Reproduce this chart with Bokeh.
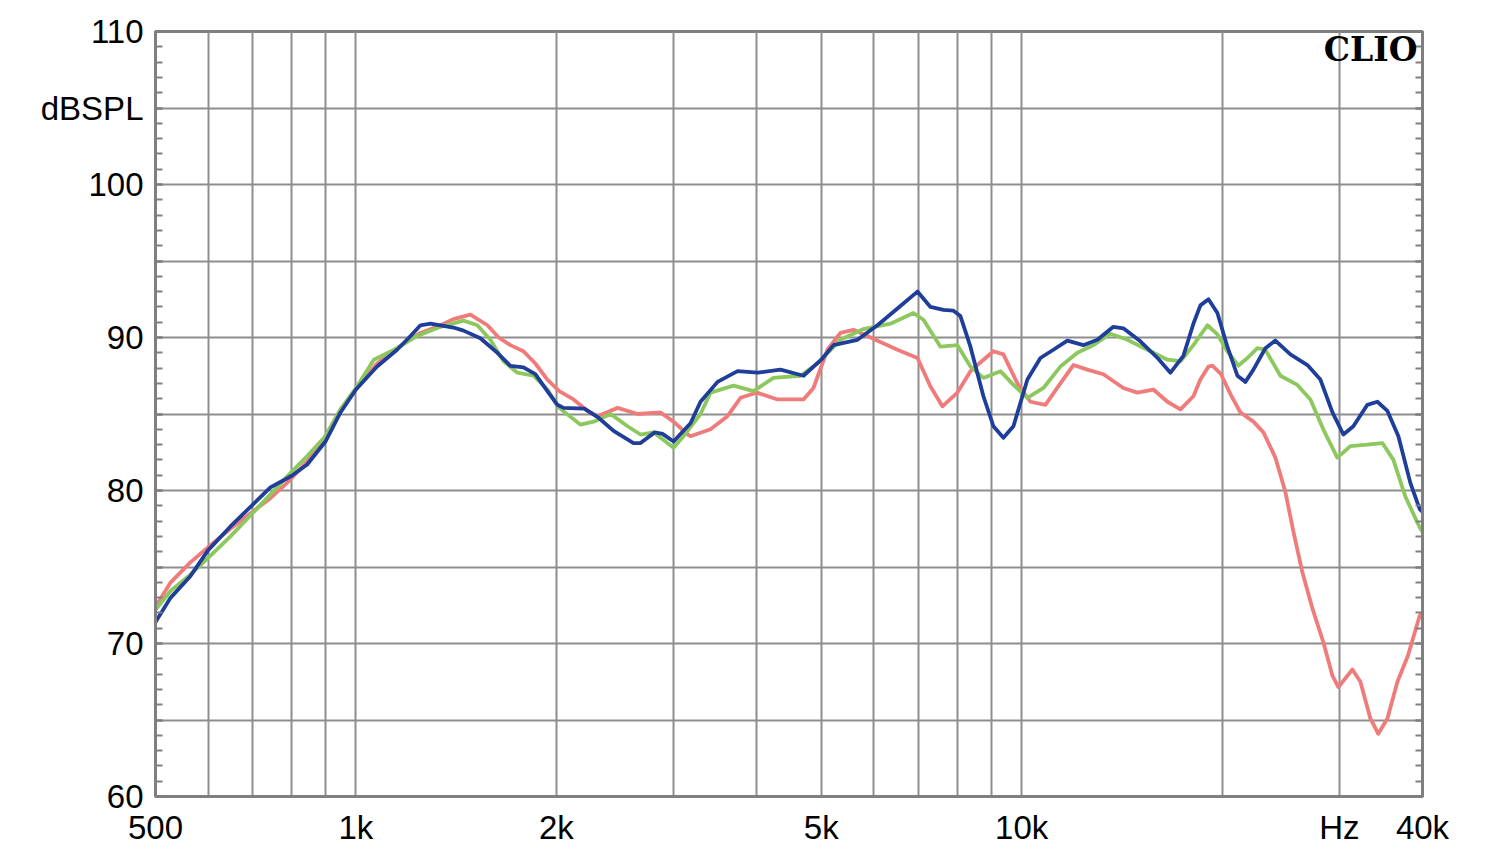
from bokeh.plotting import figure
from bokeh.models import (Range1d, FixedTicker, SingleIntervalTicker, LinearAxis,
                          Label, ColumnDataSource, CustomJSTickFormatter)
from bokeh.embed import file_html
from bokeh.resources import INLINE

# ---------------- data (Hz, dBSPL) ----------------
freq_red = [500, 527, 564, 600, 648, 697, 744, 788, 845, 900, 948, 1000, 1076, 1153,
            1250, 1340, 1401, 1486, 1576, 1638, 1706, 1785, 1860, 1939, 2020, 2123,
            2228, 2307, 2472, 2649, 2868, 3000, 3150, 3181, 3409, 3615, 3782, 4000,
            4297, 4702, 4867, 5108, 5343, 5589, 5927, 6507, 6974, 7294, 7602, 8008,
            8376, 8581, 9069, 9388, 9854, 10307, 10856, 11433, 11959, 12551, 13266,
            14215, 14920, 15770, 16555, 17320, 18110, 18555, 19080, 19340, 19930,
            20585, 21310, 22290, 23075, 24050, 24895, 25600, 26400, 27330, 28380,
            29295, 29900, 31385, 32265, 33400, 34330, 35430, 36675, 38030, 39600, 40000]
db_red = [72.4, 74.0, 75.3, 76.3, 77.5, 78.56, 79.5, 80.5, 81.9, 83.55, 85.3, 86.6, 88.3, 89.3,
          90.3, 90.8, 91.2, 91.5, 90.8, 90.0, 89.5, 89.1, 88.3, 87.25, 86.5, 85.95,
          85.2, 84.86, 85.4, 85.0, 85.1, 84.5, 83.66, 83.55, 84.0, 84.86, 86.06, 86.4,
          85.95, 85.95, 86.7, 89.2, 90.3, 90.5, 90.0, 89.2, 88.66, 86.8, 85.5, 86.4,
          87.8, 88.2, 89.1, 88.9, 87.0, 85.8, 85.6, 87.0, 88.2, 87.9, 87.6,
          86.7, 86.4, 86.6, 85.8, 85.3, 86.16, 87.25, 88.1, 88.16, 87.6,
          86.3, 85.1, 84.5, 83.8, 82.15, 79.9, 77.3, 74.65, 72.3, 70.1,
          67.9, 67.15, 68.3, 67.5, 65.1, 64.1, 65.1, 67.5, 69.2, 71.8, 72.0]

freq_green = [500, 527, 564, 600, 648, 697, 744, 800, 845, 900, 948, 1000, 1064, 1153,
              1236, 1340, 1451, 1522, 1592, 1666, 1748, 1848, 1939, 2020, 2175, 2275,
              2413, 2559, 2676, 2799, 3000, 3105, 3293, 3409, 3691, 3956, 4238, 4653,
              4935, 5343, 5786, 6352, 6878, 7120, 7551, 8008, 8376, 8761, 9291, 9719,
              10200, 10781, 11433, 12125, 12815, 13590, 14413, 15445, 16555, 17320,
              18110, 19010, 19680, 20370, 21160, 21830, 22600, 23230, 24470, 25950,
              27145, 28380, 29790, 31170, 33055, 34820, 36170, 37700, 39600, 40000]
db_green = [72.2, 73.45, 74.5, 75.6, 77.0, 78.45, 79.75, 81.2, 82.25, 83.55, 85.3, 86.7, 88.55, 89.3,
            90.1, 90.7, 91.1, 90.8, 89.85, 88.45, 87.7, 87.5, 86.6, 85.4, 84.3, 84.5,
            85.0, 84.2, 83.66, 83.8, 82.8, 83.55, 85.0, 86.4, 86.85, 86.5, 87.36, 87.5,
            88.3, 89.85, 90.55, 90.9, 91.6, 91.16, 89.4, 89.5, 88.1, 87.36, 87.8, 86.9,
            86.06, 86.7, 88.1, 89.0, 89.5, 90.25, 89.85, 89.2, 88.55, 88.45,
            89.5, 90.8, 90.2, 89.1, 88.16, 88.66, 89.3, 89.2, 87.5, 86.9,
            85.95, 84.0, 82.15, 82.9, 83.0, 83.1, 82.0, 79.6, 77.6, 77.3]

freq_blue = [500, 527, 564, 600, 648, 697, 744, 800, 845, 900, 948, 1000, 1076, 1153,
             1208, 1250, 1294, 1401, 1451, 1538, 1631, 1706, 1785, 1860, 1939, 2007,
             2051, 2204, 2307, 2438, 2612, 2676, 2811, 2888, 3000, 3105, 3181, 3293,
             3493, 3743, 4012, 4342, 4702, 5000, 5216, 5667, 6073, 6507, 6974, 7294,
             7629, 7898, 8091, 8376, 8761, 9069, 9388, 9719, 10200, 10670, 11160,
             11713, 12379, 12994, 13732, 14215, 15076, 16000, 16730, 17495, 18110,
             18555, 19080, 19680, 20370, 21090, 21680, 22290, 23230, 24050, 25330,
             26865, 28100, 29295, 30425, 31490, 33055, 34220, 35430, 36800, 38355,
             39600, 40000]
db_blue = [71.4, 73.0, 74.4, 76.1, 77.65, 79.0, 80.2, 80.95, 81.7, 83.2, 85.1, 86.6, 88.1, 89.2,
           90.1, 90.8, 90.9, 90.65, 90.45, 89.95, 89.0, 88.15, 88.05, 87.6, 86.5, 85.6,
           85.4, 85.35, 84.8, 83.9, 83.1, 83.1, 83.8, 83.7, 83.2, 83.9, 84.4, 85.8,
           87.1, 87.8, 87.7, 87.9, 87.5, 88.55, 89.5, 89.85, 90.8, 91.9, 93.0, 92.0,
           91.8, 91.75, 91.4, 89.4, 86.16, 84.2, 83.45, 84.2, 87.25, 88.66, 89.2,
           89.8, 89.5, 89.85, 90.7, 90.6, 89.75, 88.66, 87.7, 88.8, 90.9,
           92.1, 92.5, 91.6, 89.4, 87.5, 87.1, 87.9, 89.3, 89.8, 88.9,
           88.2, 87.25, 85.1, 83.66, 84.2, 85.6, 85.8, 85.2, 83.55, 80.5,
           78.8, 78.6]

x_label_ticks = [500, 1000, 2000, 5000, 10000, 30000, 40000]
x_label_texts = ["500", "1k", "2k", "5k", "10k", "Hz", "40k"]
x_grid_freqs = [600, 700, 800, 900, 1000, 2000, 3000, 4000, 5000, 6000, 7000, 8000,
                9000, 10000, 20000, 30000]
y_labels = {60: "60", 65: "", 70: "70", 75: "", 80: "80", 85: "", 90: "90",
            95: "", 100: "100", 105: "dBSPL", 110: "110"}

FONT = "Liberation Sans"
GRID = "#8e8e8e"
FRAME = "#7f7f7f"

p = figure(width=1484, height=848, x_axis_type="log",
           x_range=Range1d(500, 40000), y_range=Range1d(60, 110),
           output_backend="svg", toolbar_location=None,
           min_border_left=155, min_border_right=62, min_border_top=31,
           min_border_bottom=50)
p.background_fill_color = "white"
p.border_fill_color = "white"
p.outline_line_color = FRAME
p.outline_line_width = 3

# x axis
xa = p.xaxis[0]
xa.ticker = FixedTicker(ticks=x_label_ticks, minor_ticks=[])
xa.major_label_overrides = {t: s for t, s in zip(x_label_ticks, x_label_texts)}
xa.major_label_text_font = FONT
xa.major_label_text_font_size = "33px"
xa.major_label_text_color = "black"
xa.major_label_standoff = 12
xa.major_tick_in = 0
xa.major_tick_out = 0
xa.minor_tick_in = 0
xa.minor_tick_out = 0
xa.axis_line_color = FRAME
xa.axis_line_width = 3

# y axis (left)
ya = p.yaxis[0]
ya.ticker = SingleIntervalTicker(interval=5, num_minor_ticks=5)
ya.major_label_overrides = y_labels
ya.major_label_text_font = FONT
ya.major_label_text_font_size = "33px"
ya.major_label_text_color = "black"
ya.major_label_standoff = 12
ya.major_tick_in = 7
ya.major_tick_out = 0
ya.minor_tick_in = 7
ya.minor_tick_out = 0
ya.major_tick_line_color = FRAME
ya.minor_tick_line_color = FRAME
ya.major_tick_line_width = 2
ya.minor_tick_line_width = 2
ya.axis_line_color = FRAME
ya.axis_line_width = 3

# right axis with inward ticks, no labels
ra = LinearAxis(ticker=SingleIntervalTicker(interval=5, num_minor_ticks=5),
                formatter=CustomJSTickFormatter(code="return ''"))
ra.major_tick_in = 7
ra.major_tick_out = 0
ra.minor_tick_in = 7
ra.minor_tick_out = 0
ra.major_tick_line_color = FRAME
ra.minor_tick_line_color = FRAME
ra.major_tick_line_width = 2
ra.minor_tick_line_width = 2
ra.axis_line_color = FRAME
ra.axis_line_width = 3
ra.major_label_standoff = 0
p.add_layout(ra, "right")

# grids
p.xgrid.ticker = FixedTicker(ticks=x_grid_freqs, minor_ticks=[])
p.xgrid.grid_line_color = GRID
p.xgrid.grid_line_width = 2
p.ygrid.grid_line_color = GRID
p.ygrid.grid_line_width = 2

# curves
for fr, db, col in [(freq_red, db_red, "#f07b7b"),
                    (freq_green, db_green, "#8cc85e"),
                    (freq_blue, db_blue, "#1f3e9a")]:
    src = ColumnDataSource(data=dict(f=fr, db=db))
    p.line("f", "db", source=src, line_color=col, line_width=3.8,
           line_join="round", line_cap="round")

p.add_layout(Label(x=39300, y=108.8, text="CLIO", text_align="right",
                   text_baseline="alphabetic", text_font="DejaVu Serif",
                   text_font_style="bold", text_font_size="33px",
                   text_color="black"))

open("out.html", "w").write(file_html(p, INLINE))
